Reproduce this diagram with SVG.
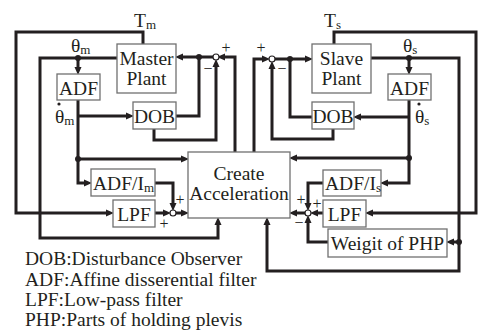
<svg xmlns="http://www.w3.org/2000/svg" width="478" height="331" viewBox="0 0 478 331">
<defs>
<marker id="ah" markerUnits="userSpaceOnUse" markerWidth="10" markerHeight="8" refX="3" refY="4" orient="auto">
<path d="M0,0.5 L8,4 L0,7.5 Z" fill="#231f20"/>
</marker>
<style>
.c{fill:none;stroke:#231f20;stroke-width:3;stroke-linejoin:miter}
.a{marker-end:url(#ah)}
.b{fill:#fff;stroke:#707070;stroke-width:1.3}
.t{font-family:"Liberation Serif","Times New Roman",serif;font-size:19.5px;fill:#231f20}
.m{text-anchor:middle}
.s{font-size:13px}
.p{font-family:"Liberation Serif",serif;font-size:16px;fill:#231f20;text-anchor:middle;dominant-baseline:central}
.d{fill:#231f20}
.n{fill:#fff;stroke:#231f20;stroke-width:1.2}
</style>
</defs>
<rect width="478" height="331" fill="#fff"/>
<g id="connectors">
<path class="c a" d="M143,44 V32 H16 V213 H109"/>
<path class="c a" d="M117,58 H40 V238 H218 V222"/>
<path class="c a" d="M78,58 V70"/>
<path class="c a" d="M78,100 V183 H87"/>
<path class="c a" d="M78,116 H129"/>
<path class="c a" d="M78,159 H184"/>
<path class="c" d="M176,116 H199 V57"/>
<path class="c a" d="M213,57 H180"/>
<path class="c a" d="M235,152 V57 H222"/>
<path class="c a" d="M154,129 V140 H216 V64"/>
<path class="c a" d="M155,183 H173 V206"/>
<path class="c a" d="M155,213 H166"/>
<path class="c a" d="M176,213 H184"/>
<path class="c a" d="M334,44 V32 H476 V213 H370"/>
<path class="c a" d="M371,58 H459 V271 H267 V222"/>
<path class="c a" d="M409,58 V70"/>
<path class="c a" d="M409,100 V183 H385"/>
<path class="c a" d="M409,117 H358"/>
<path class="c a" d="M409,158 H294"/>
<path class="c" d="M312,117 H290 V59"/>
<path class="c a" d="M275,59 H308"/>
<path class="c a" d="M254,152 V59 H265"/>
<path class="c a" d="M333,129 V139 H272 V66"/>
<path class="c a" d="M323,183 H308 V206"/>
<path class="c a" d="M323,213 H315"/>
<path class="c a" d="M328,242 H308 V220"/>
<path class="c a" d="M305,213 H294"/>
<path class="c a" d="M459,242 H451"/>
<circle class="d" cx="78" cy="58" r="3"/>
<circle class="d" cx="78" cy="159" r="3"/>
<circle class="d" cx="199" cy="57" r="3"/>
<circle class="d" cx="409" cy="58" r="3"/>
<circle class="d" cx="409" cy="158" r="3"/>
<circle class="d" cx="290" cy="59" r="3"/>
<circle class="d" cx="459" cy="242" r="3"/>
<circle class="n" cx="216" cy="57" r="3"/>
<circle class="n" cx="272" cy="59" r="3"/>
<circle class="n" cx="173" cy="213" r="3"/>
<circle class="n" cx="308" cy="213" r="3"/>
<text class="p" x="226" y="47">+</text>
<text class="p" x="208" y="68">−</text>
<text class="p" x="261" y="47">+</text>
<text class="p" x="282" y="68">−</text>
<text class="p" x="180" y="199">+</text>
<text class="p" x="164" y="223">+</text>
<text class="p" x="301" y="199">+</text>
<text class="p" x="317" y="203">+</text>
<text class="p" x="299" y="222">−</text>
</g>
<g id="labels">
<text class="t" x="134" y="27">T<tspan class="s" dy="2">m</tspan></text>
<text class="t" x="324" y="27">T<tspan class="s" dy="2">s</tspan></text>
<text class="t" x="71" y="52">θ<tspan class="s" dy="2">m</tspan></text>
<text class="t" x="403" y="52">θ<tspan class="s" dy="2">s</tspan></text>
<text class="t" x="55" y="123">θ<tspan class="s" dy="2">m</tspan></text>
<circle class="d" cx="59" cy="104" r="1.6"/>
<text class="t" x="415" y="123">θ<tspan class="s" dy="2">s</tspan></text>
<circle class="d" cx="419" cy="104" r="1.6"/>
</g>
<g id="master-plant"><rect class="b" x="117" y="44" width="59" height="49"/><text class="t m" x="146.5" y="65">Master</text><text class="t m" x="146.5" y="85">Plant</text></g>
<g id="slave-plant"><rect class="b" x="312" y="44" width="59" height="49"/><text class="t m" x="341.5" y="65">Slave</text><text class="t m" x="341.5" y="85">Plant</text></g>
<g id="adf-m"><rect class="b" x="57" y="74" width="43" height="26"/><text class="t m" x="78.5" y="95">ADF</text></g>
<g id="adf-s"><rect class="b" x="388" y="74" width="43" height="26"/><text class="t m" x="409.5" y="95">ADF</text></g>
<g id="dob-m"><rect class="b" x="133" y="102" width="43" height="27"/><text class="t m" x="154.5" y="123">DOB</text></g>
<g id="dob-s"><rect class="b" x="312" y="102" width="42" height="27"/><text class="t m" x="333" y="123">DOB</text></g>
<g id="create-acc"><rect class="b" x="188" y="152" width="102" height="66"/><text class="t m" x="239" y="180">Create</text><text class="t m" x="239" y="200">Acceleration</text></g>
<g id="adf-im"><rect class="b" x="91" y="169" width="64" height="27"/><text class="t" x="93" y="190">ADF/I<tspan class="s" dy="2">m</tspan></text></g>
<g id="lpf-m"><rect class="b" x="113" y="200" width="42" height="27"/><text class="t m" x="134" y="221">LPF</text></g>
<g id="adf-is"><rect class="b" x="323" y="170" width="58" height="26"/><text class="t" x="325" y="190">ADF/I<tspan class="s" dy="2">s</tspan></text></g>
<g id="lpf-s"><rect class="b" x="323" y="200" width="43" height="27"/><text class="t m" x="344.5" y="221">LPF</text></g>
<g id="weight-php"><rect class="b" x="328" y="229" width="119" height="28"/><text class="t m" x="387.5" y="250">Weigit of PHP</text></g>
<g id="legend">
<text class="t" x="25" y="265">DOB:Disturbance Observer</text>
<text class="t" x="25" y="285.5">ADF:Affine disserential filter</text>
<text class="t" x="25" y="306">LPF:Low-pass filter</text>
<text class="t" x="25" y="326">PHP:Parts of holding plevis</text>
</g>
</svg>
